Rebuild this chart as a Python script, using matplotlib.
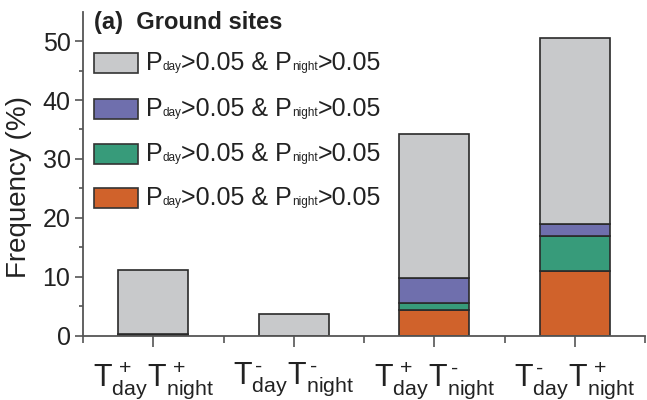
import matplotlib
matplotlib.use('Agg')
import matplotlib.pyplot as plt
from matplotlib.patches import Rectangle
from matplotlib.offsetbox import AnchoredOffsetbox, DrawingArea, HPacker, TextArea
import numpy as np

plt.rcParams['font.family'] = ['Liberation Sans', 'DejaVu Sans']
plt.rcParams['mathtext.fontset'] = 'custom'
plt.rcParams['mathtext.rm'] = 'Liberation Sans'
plt.rcParams['mathtext.it'] = 'Liberation Sans'
plt.rcParams['mathtext.bf'] = 'Liberation Sans:bold'

# data (frequency, %)
categories = [r'$\mathrm{T^{\,+}_{day}T^{\,+}_{night}}$',
              r'$\mathrm{T^{\,\text{-}}_{day}T^{\,\text{-}}_{night}}$',
              r'$\mathrm{T^{\,+}_{day}T^{\,\text{-}}_{night}}$',
              r'$\mathrm{T^{\,\text{-}}_{day}T^{\,+}_{night}}$']
orange = [0.1, 0.0, 4.3, 10.9]
green = [0.1, 0.0, 1.2, 6.0]
purple = [0.1, 0.0, 4.3, 2.1]
gray = [10.9, 3.7, 24.5, 31.6]

series = [orange, green, purple, gray]
colors = ['#D0622B', '#379B7A', '#6F6FAD', '#C8C9CB']
legend_order = [3, 2, 1, 0]

fig = plt.figure(figsize=(6.47, 4.0), dpi=100)
ax = fig.add_axes([83 / 647, 64.5 / 400, 562 / 647, 323.8 / 400])

x = np.arange(1, len(categories) + 1)
bottom = np.zeros(len(categories))
for vals, c in zip(series, colors):
    ax.bar(x, vals, width=0.5, bottom=bottom, color=c, edgecolor='#2a2a2a',
           linewidth=1.2, zorder=2)
    bottom += np.array(vals)

ax.set_xlim(0.5, 4.5)
ax.set_ylim(0, 55)
ax.set_xticks(x)
ax.set_xticklabels(categories, fontsize=22, color='#222222')
ax.set_xticks(np.arange(0.5, 4.6, 1.0), minor=True)
ax.set_yticks(np.arange(0, 51, 10))
ax.set_yticks(np.arange(5, 51, 10), minor=True)
ax.tick_params(axis='y', which='major', length=6, width=1.2, labelsize=18,
               colors='#555555', labelcolor='#222222', pad=3)
ax.tick_params(axis='y', which='minor', length=3, width=1.2, colors='#555555')
ax.tick_params(axis='x', which='major', length=8, width=1.2, colors='#555555',
               labelcolor='#222222', pad=10)
ax.tick_params(axis='x', which='minor', length=5, width=1.2, colors='#555555')
for s in ['top', 'right']:
    ax.spines[s].set_visible(False)
for s in ['left', 'bottom']:
    ax.spines[s].set_color('#555555')
    ax.spines[s].set_linewidth(1.3)

fig.text(19 / 647, 1 - 187 / 400, 'Frequency (%)', rotation=90, ha='center',
         va='center', fontsize=20, color='#222222')
fig.text(94 / 647, 1 - 22 / 400, '(a)  Ground sites', ha='left', va='center',
         fontsize=17, fontweight='bold', color='#222222')

# legend rows built by hand: small "day"/"night" on the baseline
row_y = [63, 109, 154, 198]
big = dict(size=18, color='#222222')
small = dict(size=8.5, color='#222222')
for yc, k in zip(row_y, legend_order):
    da = DrawingArea(33, 15, 0, 0)
    da.add_artist(Rectangle((0.5, 0.5), 32, 14, facecolor=colors[k],
                            edgecolor='#333333', linewidth=1.2))
    pieces = [TextArea('P', textprops=big), TextArea('day', textprops=small),
              TextArea('>0.05 & P', textprops=big),
              TextArea('night', textprops=small),
              TextArea('>0.05', textprops=big)]
    txt = HPacker(children=pieces, align='baseline', pad=0, sep=0)
    row = HPacker(children=[da, txt], align='center', pad=0, sep=5)
    box = AnchoredOffsetbox(loc='center left', child=row, pad=0, borderpad=0,
                            frameon=False,
                            bbox_to_anchor=(93 / 647, 1 - yc / 400),
                            bbox_transform=fig.transFigure)
    ax.add_artist(box)

fig.savefig('out.png', dpi=100)
